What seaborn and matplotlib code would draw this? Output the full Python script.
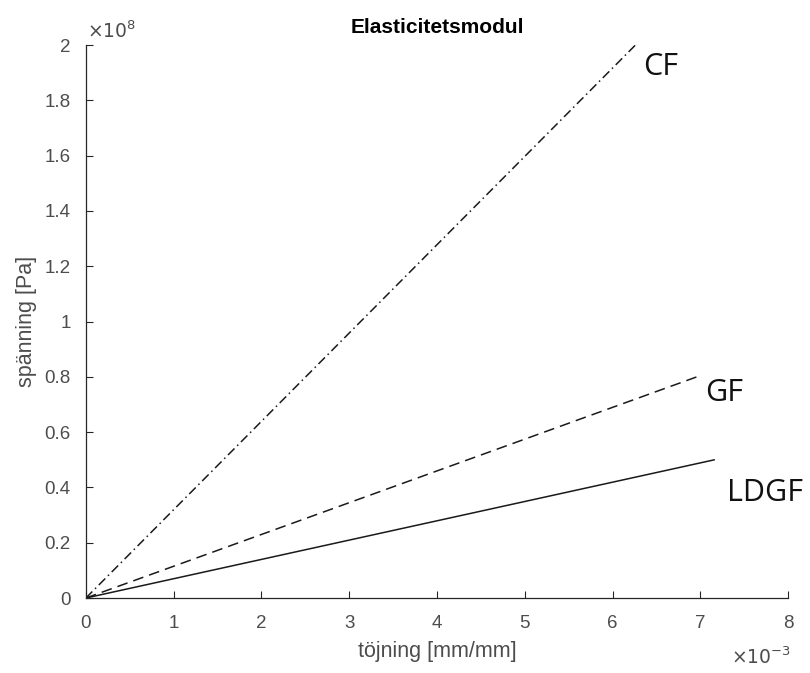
import matplotlib
matplotlib.use("Agg")
import matplotlib.pyplot as plt
import seaborn as sns
import pandas as pd

materials = ["CF", "GF", "LDGF"]
strain_end = [6.26e-3, 6.96e-3, 7.16e-3]   # mm/mm
stress_end = [2.0e8, 0.80e8, 0.50e8]       # Pa
label_pos_x = [6.35e-3, 7.05e-3, 7.3e-3]
label_pos_y = [1.92e8, 0.74e8, 0.38e8]

rows = []
for m, xe, ye in zip(materials, strain_end, stress_end):
    rows.append({"material": m, "strain": 0.0, "stress": 0.0})
    rows.append({"material": m, "strain": xe, "stress": ye})
df = pd.DataFrame(rows)

sns.set_theme(style="white")
plt.rcParams["font.family"] = ["Liberation Sans", "DejaVu Sans"]

fig = plt.figure(figsize=(8.10, 6.73), dpi=100)
ax = fig.add_axes([0.106, 0.1114, 0.867, 0.8216])

styles = {"CF": (0, (6, 2.5, 1, 2.5)), "GF": (0, (7, 4)), "LDGF": "-"}
for m in materials:
    sub = df[df.material == m]
    sns.lineplot(data=sub, x="strain", y="stress", ax=ax, color="#1a1a1a",
                 linewidth=1.1, linestyle=styles[m], legend=False, sort=False,
                 estimator=None)

for m, lx, ly in zip(materials, label_pos_x, label_pos_y):
    ax.text(lx, ly, m, fontsize=22, family=["Open Sans", "DejaVu Sans"],
            color="#111111", va="center", ha="left", clip_on=False)

ax.set_xlim(0, 8e-3)
ax.set_ylim(0, 2e8)
ax.set_xticks([i * 1e-3 for i in range(9)])
ax.set_xticklabels([str(i) for i in range(9)])
yt = [0, 0.2, 0.4, 0.6, 0.8, 1, 1.2, 1.4, 1.6, 1.8, 2]
ax.set_yticks([v * 1e8 for v in yt])
ax.set_yticklabels(["0", "0.2", "0.4", "0.6", "0.8", "1", "1.2", "1.4", "1.6", "1.8", "2"])

for s in ["top", "right"]:
    ax.spines[s].set_visible(False)
for s in ["left", "bottom"]:
    ax.spines[s].set_color("#262626")
    ax.spines[s].set_linewidth(0.9)
ax.tick_params(bottom=True, left=True, direction="in", length=5, width=0.8,
               colors="#262626", labelcolor="#4d4d4d", labelsize=13.5)
ax.tick_params(axis="x", pad=12)
ax.tick_params(axis="y", pad=11)

ax.set_xlabel("töjning [mm/mm]", fontsize=15.5, color="#4d4d4d", labelpad=7)
ax.set_ylabel("spänning [Pa]", fontsize=15.5, color="#4d4d4d", labelpad=5)
ax.set_title("Elasticitetsmodul", fontsize=15, fontweight="bold", color="black", pad=9)

fig.text(0.107, 0.938, r"$\times10^{8}$", fontsize=13.5, color="#4d4d4d", ha="left", va="bottom")
fig.text(0.902, 0.008, r"$\times10^{-3}$", fontsize=13.5, color="#4d4d4d", ha="left", va="bottom")

fig.savefig("out.png", dpi=100)
